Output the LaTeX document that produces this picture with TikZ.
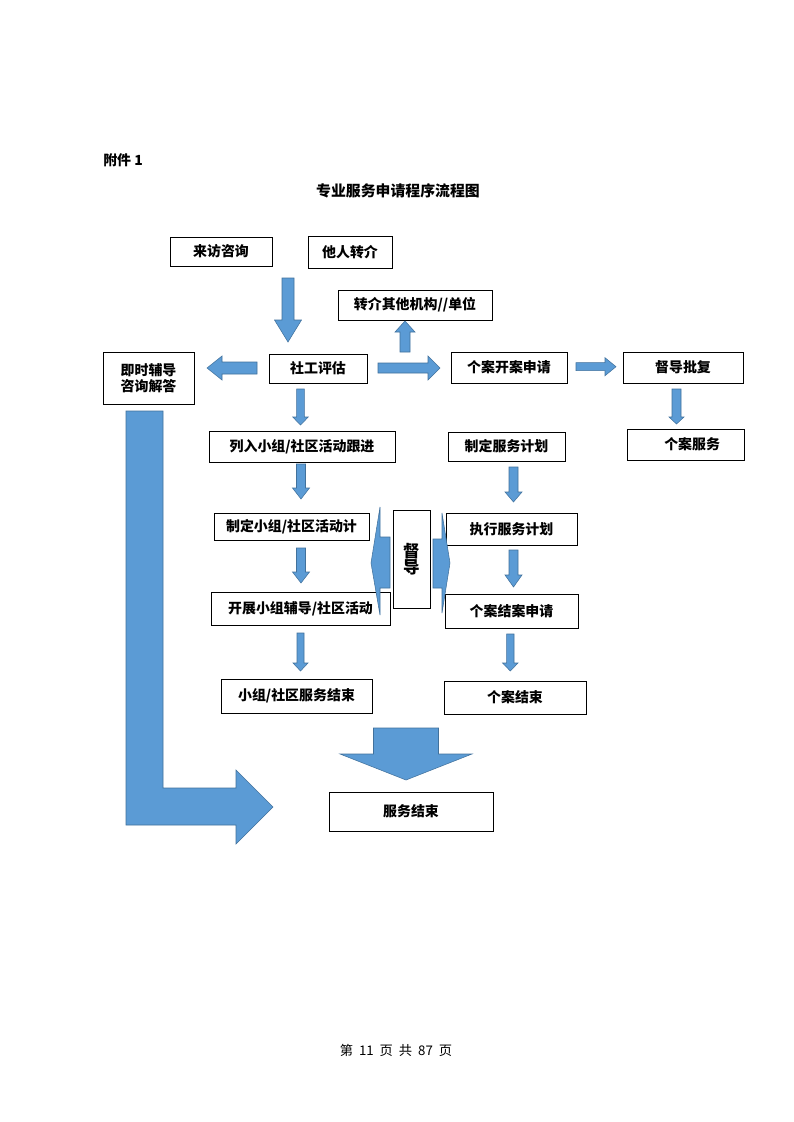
\documentclass[tikz,border=0pt]{standalone}
\usepackage{fontspec}
\setmainfont{Noto Sans CJK SC}
\definecolor{arrfill}{HTML}{5B9BD5}
\definecolor{arrline}{HTML}{41719C}
\def\pxu{0.02648cm}
\tikzset{
  box/.style={draw=black, line width=0.6pt, fill=white, inner sep=0pt,
    font=\fontsize{10.5}{12}\selectfont\bfseries},
  blk/.style={fill=arrfill, draw=arrline, line width=0.4pt},
}
% box: name, x1, y1, x2, y2, text
\newcommand\bx[6]{\node[box, minimum width={(#4-#2)*\pxu}, minimum height={(#5-#3)*\pxu}] (#1) at ({(#2+#4)/2},{(#3+#5)/2}) {#6};}
% vertical block arrow: cx, ystart, yhead, ytip, body half width, head half width
\newcommand\varr[6]{\draw[blk] ({#1-#5},#2) -- ({#1+#5},#2) -- ({#1+#5},#3) -- ({#1+#6},#3) -- (#1,#4) -- ({#1-#6},#3) -- ({#1-#5},#3) -- cycle;}
% horizontal block arrow: cy, xstart, xhead, xtip, body half height, head half height
\newcommand\harr[6]{\draw[blk] (#2,{#1-#5}) -- (#3,{#1-#5}) -- (#3,{#1-#6}) -- (#4,#1) -- (#3,{#1+#6}) -- (#3,{#1+#5}) -- (#2,{#1+#5}) -- cycle;}
\begin{document}
\begin{tikzpicture}[x=0.02648cm, y=-0.02648cm]
\useasboundingbox (0,0) rectangle (793,1122);
\fill[white] (0,0) rectangle (793,1122);

% header
\node[anchor=west, inner sep=0pt, font=\fontsize{10.5}{12}\selectfont\bfseries] (fujian) at (103,160) {附件 1};
\node[inner sep=0pt, font=\fontsize{11.2}{14}\selectfont\bfseries] (title) at (398,191) {专业服务申请程序流程图};

% boxes
\bx{laifang}{170}{237}{272}{266}{来访咨询}
\bx{taren}{308}{236}{392}{268}{他人转介}
\bx{zhuanjie}{338}{290}{492}{320}{转介其他机构//单位}
\node[box, align=center, minimum width={91*\pxu}, minimum height={52*\pxu}] (jishi) at (148.5,378) {即时辅导\\咨询解答};
\bx{shegong}{269}{354}{367}{383}{社工评估}
\bx{kaian}{451}{352}{567}{383}{个案开案申请}
\bx{pifu}{623}{352}{743}{383}{督导批复}
\bx{gean}{627}{429}{744}{460}{\hspace*{10pt}个案服务}
\bx{zhiding}{448}{432}{565}{461}{制定服务计划}
\bx{lieru}{209}{431}{395}{462}{列入小组/社区活动跟进}
\bx{xzjihua}{214}{513}{369}{540}{制定小组/社区活动计}
\bx{kaizhan}{211}{592}{390}{625}{开展小组辅导/社区活动}
\bx{zhixing}{446}{513}{577}{545}{执行服务计划}
\bx{jiean}{445}{594}{578}{628}{个案结案申请}
\node[box, align=center, minimum width={37*\pxu}, minimum height={98*\pxu}, font=\fontsize{12.5}{12.5}\selectfont\bfseries] (dudao) at (411.5,559) {督\\导};
\bx{xzjieshu}{221}{679}{372}{713}{小组/社区服务结束}
\bx{gajieshu}{444}{681}{586}{714}{个案结束}
\bx{fwjieshu}{329}{792}{493}{831}{服务结束}

% block arrows
\varr{288}{278}{320}{342}{6}{13.5}
\varr{405}{352}{332}{321}{5}{10}
\harr{368}{257}{222}{207}{6}{12}
\harr{368}{378}{428}{440}{5}{12}
\harr{366.7}{576}{605}{616}{4}{9}
\varr{676.5}{389}{417}{424}{4.5}{7.5}
\varr{300.5}{389}{417}{425}{3.8}{7.8}
\varr{301}{464}{488}{499}{4.5}{8.5}
\varr{301}{548}{572}{583}{4.5}{8.5}
\varr{300.5}{633}{663}{671}{3.5}{7.5}
\varr{513.5}{467}{492}{502}{4.5}{8.5}
\varr{513.5}{550}{575}{587}{4.5}{8.5}
\varr{510.3}{634}{663}{671}{3.7}{7.7}
\varr{406}{728}{754}{780}{32.5}{66}

% side arrows at supervision box
\draw[blk] (390,537) -- (380,537) -- (380,507) -- (371,563) -- (380,615) -- (380,588) -- (390,588) -- cycle;
\draw[blk] (433,539) -- (442,539) -- (442,513) -- (450,563) -- (442,613) -- (442,588) -- (433,588) -- cycle;

% L-shaped arrow
\draw[blk] (126,411) -- (163,411) -- (163,788) -- (236,788) -- (236,770) -- (273,807) -- (236,844) -- (236,825) -- (126,825) -- cycle;

% footer
\node[inner sep=0pt, font=\fontsize{10}{12}\selectfont] (footer) at (396,1050) {第\hspace{0.45em}11\hspace{0.45em}页\hspace{0.45em}共\hspace{0.45em}87\hspace{0.45em}页};
\end{tikzpicture}
\end{document}
